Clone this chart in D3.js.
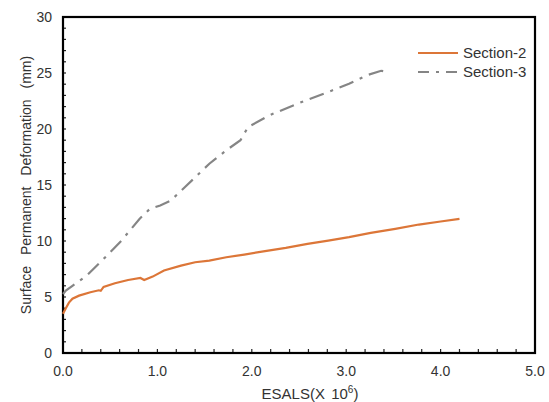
<!DOCTYPE html>
<html>
<head>
<meta charset="utf-8">
<script src="https://cdn.jsdelivr.net/npm/d3@7"></script>
<style>
  body { margin: 0; background: #fff; }
  svg text { font-family: "Liberation Sans", Arial, sans-serif; fill: #333; }
</style>
</head>
<body>
<section></section>
<script>
// ESALs (millions) vs surface permanent deformation (mm)
const sec2X = [0, 0.03, 0.063, 0.1, 0.17, 0.29, 0.38, 0.4, 0.43, 0.55, 0.69, 0.82, 0.86, 0.95, 1.07, 1.25, 1.4, 1.55, 1.73, 1.92, 2.14, 2.36, 2.59, 2.81, 3.03, 3.26, 3.52, 3.77, 4.0, 4.2];
const sec2Y = [3.5, 4.0, 4.5, 4.85, 5.12, 5.42, 5.6, 5.55, 5.9, 6.23, 6.52, 6.7, 6.52, 6.82, 7.36, 7.8, 8.1, 8.25, 8.55, 8.79, 9.09, 9.38, 9.74, 10.04, 10.34, 10.72, 11.08, 11.47, 11.74, 11.97];
const sec3X = [0, 0.03, 0.1, 0.25, 0.43, 0.62, 0.81, 0.92, 1.03, 1.14, 1.29, 1.55, 1.73, 1.88, 1.96, 2.18, 2.48, 2.85, 3.03, 3.22, 3.37, 3.44];
const sec3Y = [5.27, 5.57, 6.0, 6.9, 8.4, 10.04, 11.97, 12.87, 13.17, 13.6, 14.8, 16.9, 18.1, 19.0, 20.17, 21.2, 22.25, 23.44, 24.04, 24.8, 25.2, 25.1];
const xTicks = [0, 1, 2, 3, 4, 5];
const yTicks = [0, 5, 10, 15, 20, 25, 30];
const seriesNames = ['Section-2', 'Section-3'];

let width = 549, height = 402;
const m = { left: 63, right: 14, top: 17, bottom: 49 };

const svg = d3.select('section')
    .append('svg')
    .attr('width', width)
    .attr('height', height)

const xScale = d3.scaleLinear()
    .domain([0, 5])
    .range([m.left, width - m.right])
const yScale = d3.scaleLinear()
    .domain([0, 30])
    .range([height - m.bottom, m.top])

// small inside ticks
svg.append('g')
    .selectAll('line')
    .data(d3.range(1, 25))
    .enter()
    .append('line')
    .attr('x1', d => xScale(d * 0.2))
    .attr('x2', d => xScale(d * 0.2))
    .attr('y1', height - m.bottom)
    .attr('y2', height - m.bottom - 4)
    .attr('stroke', '#222')
    .attr('stroke-width', 1.2)

svg.append('g')
    .selectAll('line')
    .data(d3.range(1, 30))
    .enter()
    .append('line')
    .attr('x1', m.left)
    .attr('x2', m.left + 3)
    .attr('y1', d => yScale(d))
    .attr('y2', d => yScale(d))
    .attr('stroke', '#222')
    .attr('stroke-width', 1.2)

// labels
svg.append('g')
    .selectAll('text')
    .data(xTicks)
    .enter()
    .append('text')
    .attr('x', d => xScale(d))
    .attr('y', height - m.bottom + 23)
    .attr('text-anchor', 'middle')
    .style('font-size', '14px')
    .text(d => d.toFixed(1))

svg.append('g')
    .selectAll('text')
    .data(yTicks)
    .enter()
    .append('text')
    .attr('x', m.left - 11)
    .attr('y', d => yScale(d) + 5)
    .attr('text-anchor', 'end')
    .style('font-size', '14px')
    .text(d => d)

// frame
svg.append('rect')
    .attr('x', m.left)
    .attr('y', m.top)
    .attr('width', width - m.left - m.right)
    .attr('height', height - m.top - m.bottom)
    .attr('fill', 'none')
    .attr('stroke', '#000')
    .attr('stroke-width', 2.2)

const line = d3.line()
    .x(d => xScale(d[0]))
    .y(d => yScale(d[1]))

svg.append('path')
    .datum(sec3X.map((x, i) => [x, sec3Y[i]]))
    .attr('d', line)
    .attr('fill', 'none')
    .attr('stroke', '#858585')
    .attr('stroke-width', 2.2)
    .attr('stroke-dasharray', '15,7,3,7')

svg.append('path')
    .datum(sec2X.map((x, i) => [x, sec2Y[i]]))
    .attr('d', line)
    .attr('fill', 'none')
    .attr('stroke', '#dc7638')
    .attr('stroke-width', 2.2)

// legend
const legend = svg.append('g')
const legColors = ['#dc7638', '#858585'];
const legDash = [null, '11,7,3,7'];
seriesNames.forEach((name, i) => {
    const y = 53 + i * 19;
    legend.append('line')
        .attr('x1', 418).attr('x2', 458)
        .attr('y1', y).attr('y2', y)
        .attr('stroke', legColors[i])
        .attr('stroke-width', 2.2)
        .attr('stroke-dasharray', legDash[i])
    legend.append('text')
        .attr('x', 463)
        .attr('y', y + 5)
        .style('font-size', '15px')
        .text(name)
})

// axis titles
svg.append('text')
    .attr('transform', `translate(31,${(m.top + height - m.bottom) / 2}) rotate(-90)`)
    .attr('text-anchor', 'middle')
    .style('font-size', '14px')
    .style('word-spacing', '7px')
    .text('Surface Permanent Deformation (mm)')

const xt = svg.append('text')
    .attr('x', 310)
    .attr('y', 399)
    .attr('text-anchor', 'middle')
    .style('font-size', '15px')
xt.append('tspan').text('ESALS(X ')
xt.append('tspan').attr('dx', 2).text('10')
xt.append('tspan').attr('dy', -6).style('font-size', '10px').text('6')
xt.append('tspan').attr('dy', 6).text(')')
</script>
</body>
</html>
